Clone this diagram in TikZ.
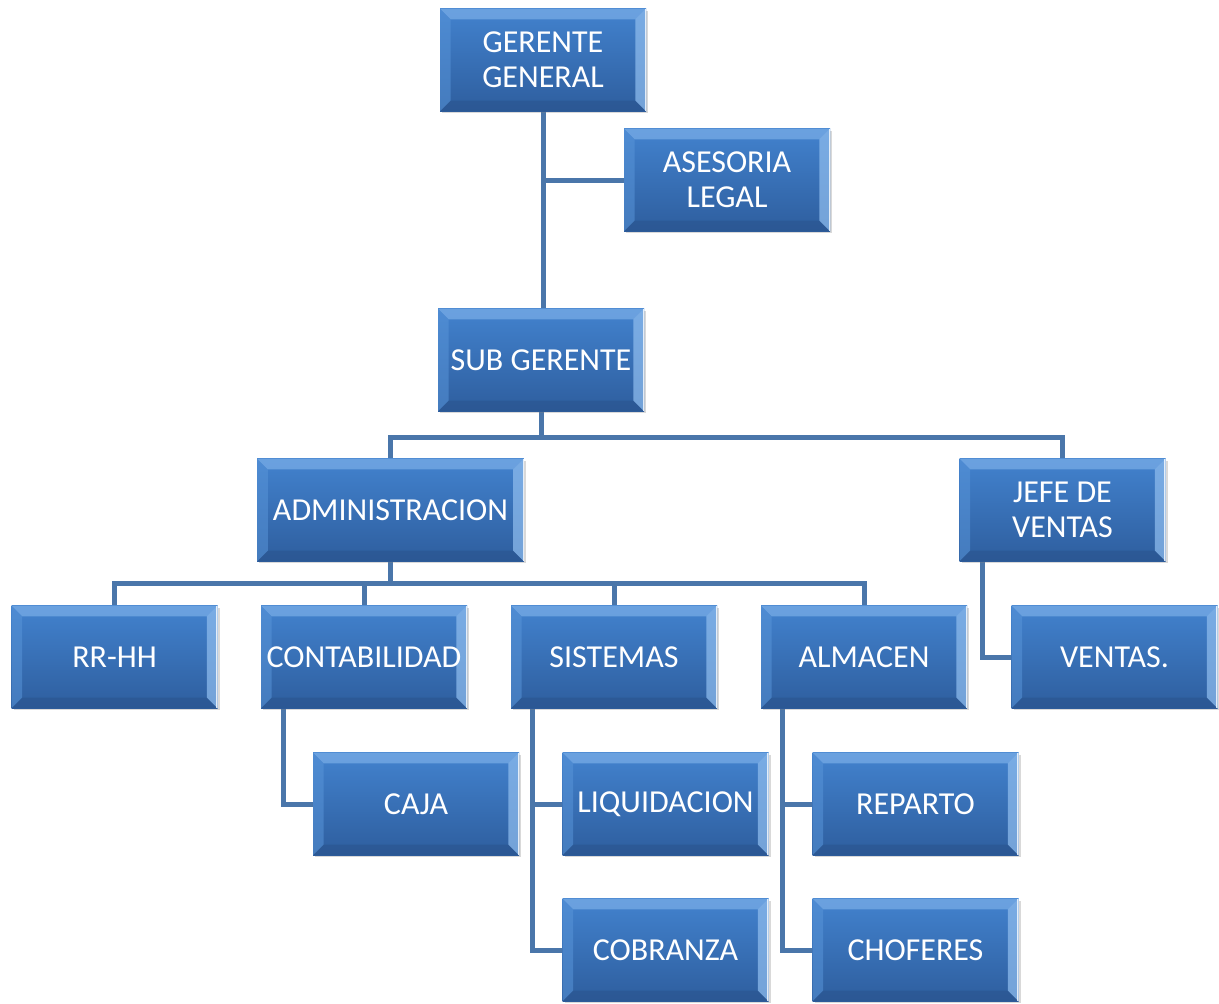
\documentclass[tikz,border=0pt]{standalone}
\usepackage{fontspec}
\setmainfont{Carlito}
\usetikzlibrary{calc,shadows,backgrounds}
\definecolor{faceTop}{RGB}{66,130,206}
\definecolor{faceBot}{RGB}{46,94,158}
\definecolor{bevTop}{RGB}{120,172,230}
\definecolor{bevLeft}{RGB}{88,148,216}
\definecolor{bevRight}{RGB}{140,186,236}
\definecolor{bevBot}{RGB}{42,84,142}
\definecolor{connC}{RGB}{74,118,170}
\tikzset{
  orgbox/.style={rectangle, inner sep=0pt, minimum width=154.5pt, minimum height=77pt,
    top color=faceTop, bottom color=faceBot, text=white, align=center,
    font=\fontsize{24}{26.5}\selectfont,
    drop shadow={opacity=0.3, shadow xshift=1.5pt, shadow yshift=-1.5pt},
    path picture={
      \coordinate (pnw) at (path picture bounding box.north west);
      \coordinate (pne) at (path picture bounding box.north east);
      \coordinate (psw) at (path picture bounding box.south west);
      \coordinate (pse) at (path picture bounding box.south east);
      \fill[bevTop, opacity=0.75] (pnw) -- (pne) -- ([shift={(-8pt,-8pt)}]pne) -- ([shift={(8pt,-8pt)}]pnw) -- cycle;
      \fill[bevLeft, opacity=0.55] (pnw) -- ([shift={(8pt,-8pt)}]pnw) -- ([shift={(8pt,8pt)}]psw) -- (psw) -- cycle;
      \fill[bevRight, opacity=0.75] (pne) -- ([shift={(-8pt,-8pt)}]pne) -- ([shift={(-8pt,8pt)}]pse) -- (pse) -- cycle;
      \fill[bevBot, opacity=0.6] (psw) -- ([shift={(8pt,8pt)}]psw) -- ([shift={(-8pt,8pt)}]pse) -- (pse) -- cycle;
      \draw[white, opacity=0.8, line width=0.8pt] ([xshift=-0.4pt]pne) -- ([xshift=-0.4pt]pse);
    }},
  conn/.style={draw=connC, line width=3.75pt, line cap=rect}
}
\begin{document}
\begin{tikzpicture}[x=0.75pt, y=-0.75pt]
\useasboundingbox (0,0) rectangle (1219,1003);
\node[orgbox] (gg) at (543,60) {GERENTE\\GENERAL};
\node[orgbox] (asl) at (727,180) {ASESORIA\\LEGAL};
\node[orgbox] (sg) at (541,360) {SUB GERENTE};
\node[orgbox, minimum width=200pt] (adm) at (390.5,510) {ADMINISTRACION};
\node[orgbox] (jv) at (1062.5,510) {JEFE DE\\VENTAS};
\node[orgbox] (rrhh) at (114.5,657) {RR-HH};
\node[orgbox] (cont) at (364,657) {CONTABILIDAD};
\node[orgbox] (sis) at (614,657) {SISTEMAS};
\node[orgbox] (alm) at (864,657) {ALMACEN};
\node[orgbox] (ven) at (1114.5,657) {VENTAS.};
\node[orgbox] (caja) at (416,804) {CAJA};
\node[orgbox] (liq) at (665.5,804) {LIQUIDACION};
\node[orgbox] (rep) at (915.5,804) {REPARTO};
\node[orgbox] (cob) at (665.5,950) {COBRANZA};
\node[orgbox] (cho) at (915.5,950) {CHOFERES};
\begin{scope}[on background layer]
\draw[conn] (gg.south) -- (gg.south |- sg.north);
\draw[conn] (gg.south |- asl.west) -- (asl.west);
\draw[conn] (sg.south) -- ++(0,26) coordinate (sgb);
\draw[conn] (sgb) -| (adm.north);
\draw[conn] (sgb) -| (jv.north);
\draw[conn] (adm.south) -- ++(0,22) coordinate (admb);
\draw[conn] (admb) -| (rrhh.north);
\draw[conn] (admb) -| (cont.north);
\draw[conn] (admb) -| (sis.north);
\draw[conn] (admb) -| (alm.north);
\draw[conn] ($(cont.south west)+(23,0)$) |- (caja.west);
\draw[conn] ($(sis.south west)+(22,0)$) |- (liq.west);
\draw[conn] ($(sis.south west)+(22,0)$) |- (cob.west);
\draw[conn] ($(alm.south west)+(22,0)$) |- (rep.west);
\draw[conn] ($(alm.south west)+(22,0)$) |- (cho.west);
\draw[conn] ($(jv.south west)+(23,0)$) |- (ven.west);
\end{scope}
\end{tikzpicture}
\end{document}
